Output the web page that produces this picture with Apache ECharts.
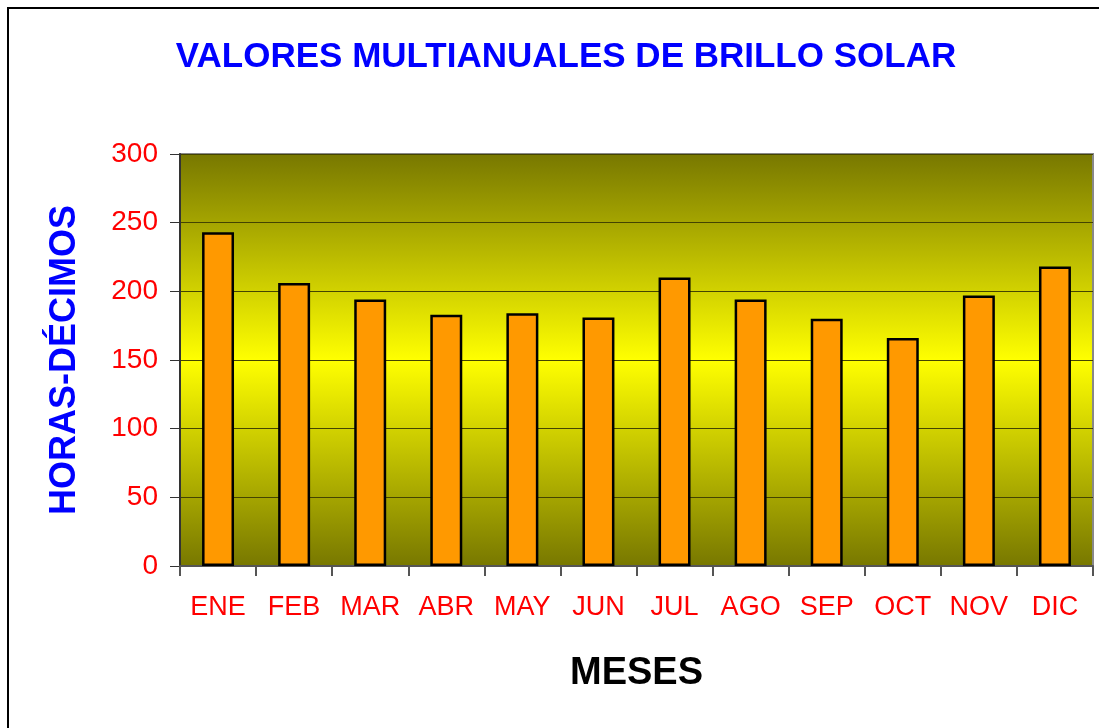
<!DOCTYPE html>
<html>
<head>
<meta charset="utf-8">
<script src="https://cdn.jsdelivr.net/npm/echarts@6/dist/echarts.min.js"></script>
<style>
html,body{margin:0;padding:0;background:#fff;}
#main{width:1099px;height:728px;}
</style>
</head>
<body>
<div id="main"></div>
<script>
// meses y valores (horas-décimos)
var meses = ["ENE","FEB","MAR","ABR","MAY","JUN","JUL","AGO","SEP","OCT","NOV","DIC"];
var brillo = [243, 206, 194, 183, 184, 181, 210, 194, 180, 166, 197, 218];
var yTicks = [0, 50, 100, 150, 200, 250, 300];

var myChart = echarts.init(document.getElementById('main'));

var fondo = new echarts.graphic.LinearGradient(0, 0, 0, 1, [
	{offset: 0, color: '#777700'},
	{offset: 0.5, color: '#ffff00'},
	{offset: 1, color: '#777700'}
]);

var option = {
	backgroundColor: '#ffffff',
	animation: false,
	title: {
		text: 'VALORES MULTIANUALES DE BRILLO SOLAR',
		left: 561,
		textAlign: 'center',
		top: 35,
		textStyle: {
			color: '#0000ff',
			fontFamily: 'Liberation Sans, Arial',
			fontWeight: 'bold',
			fontSize: 35
		}
	},
	graphic: [
		{
			type: 'rect',
			shape: {x: 8, y: 8, width: 1200, height: 800},
			style: {fill: 'none', stroke: '#000', lineWidth: 2},
			silent: true,
			z: 100
		}
	],
	grid: {
		left: 180,
		right: 6,
		top: 154,
		bottom: 162,
		show: true,
		backgroundColor: fondo,
		borderColor: '#888888',
		borderWidth: 2
	},
	xAxis: {
		type: 'category',
		data: meses,
		name: 'MESES',
		nameLocation: 'middle',
		nameGap: 89,
		nameTextStyle: {
			color: '#000',
			fontFamily: 'Liberation Sans, Arial',
			fontWeight: 'bold',
			fontSize: 38
		},
		axisLine: {lineStyle: {color: '#555', width: 2}},
		axisTick: {show: true, interval: 0, length: 10, alignWithLabel: false, lineStyle: {color: '#555', width: 2}},
		axisLabel: {
			interval: 0,
			color: '#ff0000',
			fontFamily: 'Liberation Sans, Arial',
			fontSize: 27,
			margin: 28
		}
	},
	yAxis: {
		type: 'value',
		min: 0,
		max: 300,
		interval: 50,
		name: 'HORAS-DÉCIMOS',
		nameLocation: 'middle',
		nameGap: 97,
		nameRotate: 90,
		nameTextStyle: {
			color: '#0000ff',
			fontFamily: 'Liberation Sans, Arial',
			fontWeight: 'bold',
			fontSize: 36
		},
		axisLine: {show: true, lineStyle: {color: '#333', width: 2}},
		axisTick: {show: true, length: 10, lineStyle: {color: '#333', width: 1}},
		axisLabel: {
			color: '#ff0000',
			fontFamily: 'Liberation Sans, Arial',
			fontSize: 28,
			margin: 22,
			formatter: function(v){
				return yTicks.indexOf(v) >= 0 ? String(v) : '';
			}
		},
		splitLine: {show: true, lineStyle: {color: '#444400', width: 1.2}}
	},
	series: [
		{
			type: 'bar',
			data: brillo,
			barWidth: '42%',
			itemStyle: {
				color: '#ff9900',
				borderColor: '#000',
				borderWidth: 2.5
			}
		}
	]
};
myChart.setOption(option);
</script>
</body>
</html>
